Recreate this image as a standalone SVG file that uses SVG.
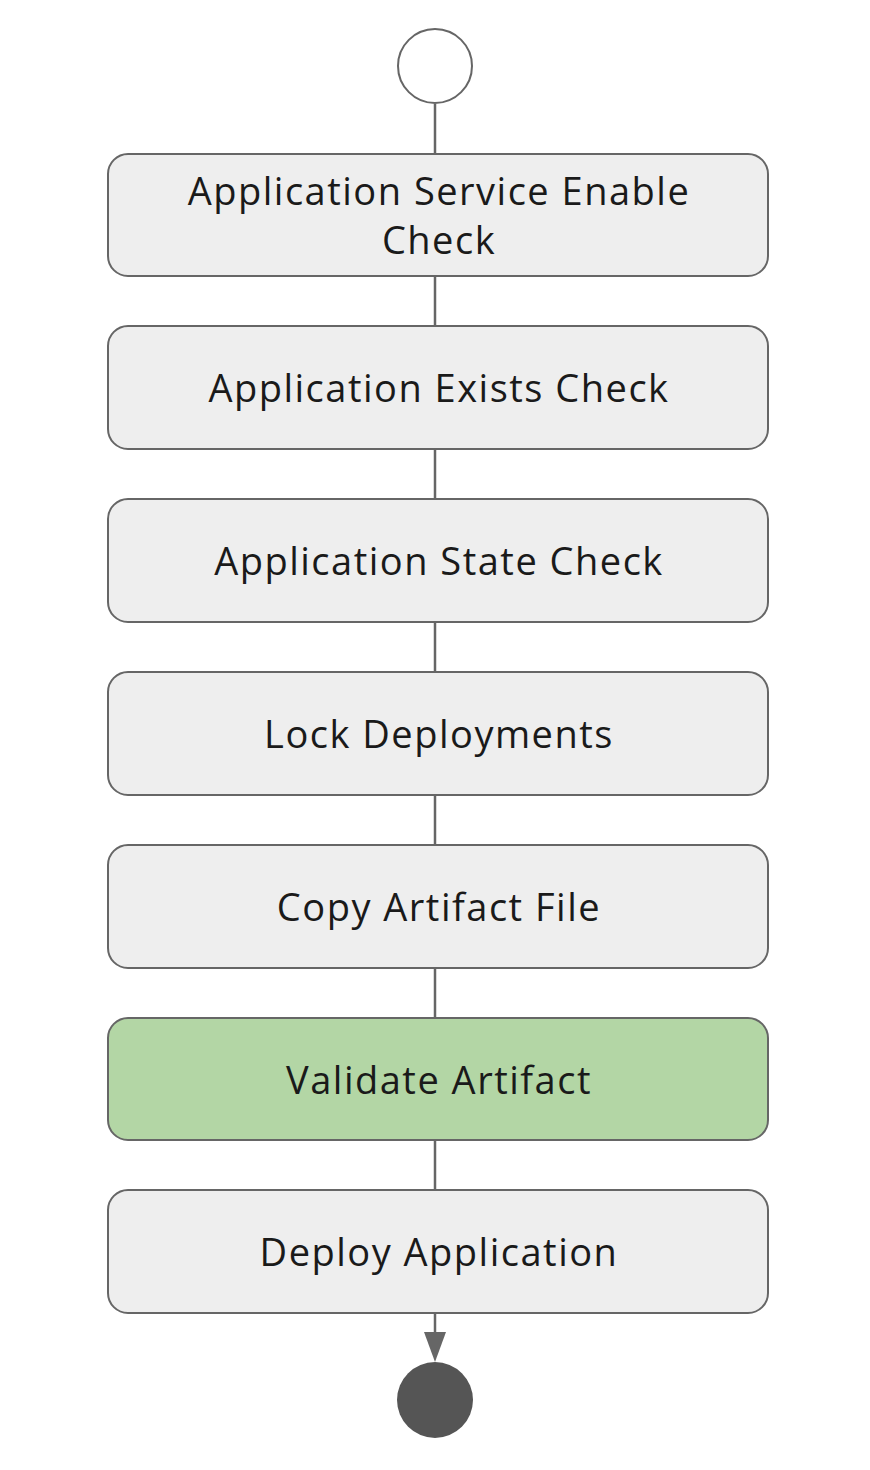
<svg xmlns="http://www.w3.org/2000/svg" width="870" height="1470" viewBox="0 0 870 1470">
<defs>
<style>
.box{fill:#eeeeee;stroke:#666666;stroke-width:2}
.green{fill:#b3d6a5;stroke:#666666;stroke-width:2}
.lbl{font-family:"Open Sans","Noto Sans",sans-serif;font-size:38px;letter-spacing:1.5px;fill:#1a1a1a;text-anchor:middle}
.edge{stroke:#666666;stroke-width:2.5;fill:none}
</style>
</defs>
<rect width="870" height="1470" fill="#ffffff"/>
<g id="connectors">
<line class="edge" x1="435" y1="104" x2="435" y2="154"/>
<line class="edge" x1="435" y1="276" x2="435" y2="326"/>
<line class="edge" x1="435" y1="449" x2="435" y2="499"/>
<line class="edge" x1="435" y1="622" x2="435" y2="672"/>
<line class="edge" x1="435" y1="795" x2="435" y2="845"/>
<line class="edge" x1="435" y1="968" x2="435" y2="1018"/>
<line class="edge" x1="435" y1="1140" x2="435" y2="1190"/>
<line class="edge" x1="435" y1="1313" x2="435" y2="1334"/>
<path d="M424,1332 L446,1332 L435,1362 z" fill="#666666"/>
</g>
<g id="start"><circle cx="435" cy="66" r="37" fill="#ffffff" stroke="#666666" stroke-width="2"/></g>
<g id="n1"><rect class="box" x="108" y="154" width="660" height="122" rx="20"/>
<text class="lbl" x="439" y="205">Application Service Enable</text>
<text class="lbl" x="439" y="254">Check</text></g>
<g id="n2"><rect class="box" x="108" y="326" width="660" height="123" rx="20"/>
<text class="lbl" x="439" y="402">Application Exists Check</text></g>
<g id="n3"><rect class="box" x="108" y="499" width="660" height="123" rx="20"/>
<text class="lbl" x="439" y="575">Application State Check</text></g>
<g id="n4"><rect class="box" x="108" y="672" width="660" height="123" rx="20"/>
<text class="lbl" x="439" y="748">Lock Deployments</text></g>
<g id="n5"><rect class="box" x="108" y="845" width="660" height="123" rx="20"/>
<text class="lbl" x="439" y="921">Copy Artifact File</text></g>
<g id="n6"><rect class="green" x="108" y="1018" width="660" height="122" rx="20"/>
<text class="lbl" x="439" y="1094">Validate Artifact</text></g>
<g id="n7"><rect class="box" x="108" y="1190" width="660" height="123" rx="20"/>
<text class="lbl" x="439" y="1266">Deploy Application</text></g>
<g id="end"><circle cx="435" cy="1400" r="38" fill="#555555"/></g>
</svg>
